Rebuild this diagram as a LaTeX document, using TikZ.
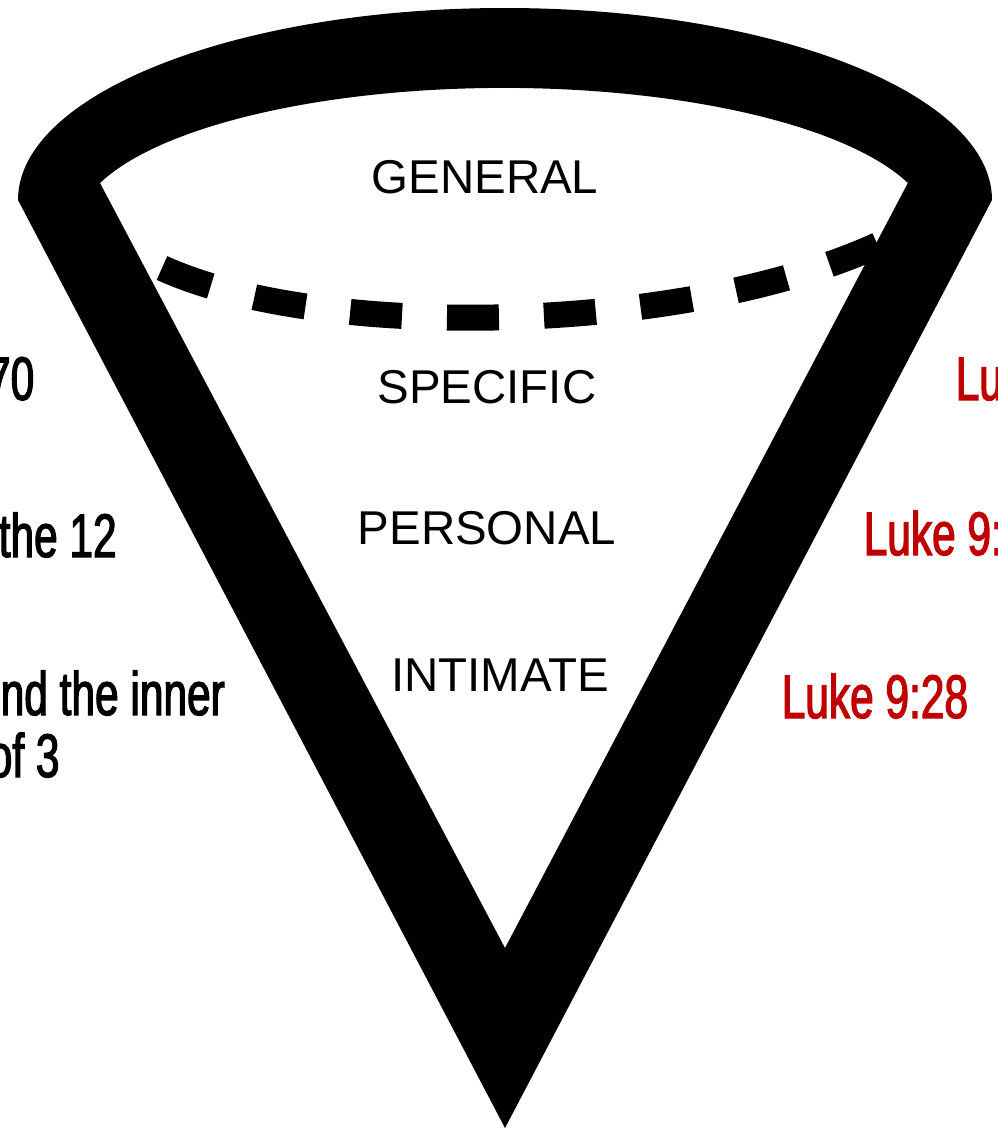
\documentclass[tikz,border=0pt]{standalone}
\usepackage{fontspec}
\setmainfont{Liberation Sans}
\newfontfamily\narrowfont[FakeStretch=0.69,FakeBold=2]{Liberation Sans}
\definecolor{refred}{HTML}{C00000}
\tikzset{
  tier/.style={font=\fontsize{13.5}{16}\selectfont, inner sep=0pt, anchor=base},
  side/.style={font=\narrowfont\fontsize{17.5}{21}\selectfont, inner sep=0pt},
  verse/.style={side, text=refred, anchor=base west},
  rim/.style={line width=2.6mm, dash pattern=on 5.2mm off 4.5mm}
}
\begin{document}
\begin{tikzpicture}[x=0.1mm, y=-0.1mm]
    \useasboundingbox (0,0) rectangle (998,1130);
    \clip (0,0) rectangle (998,1130);
    \draw[rim] (162,268) .. controls (320,340) and (680,335) .. (878,245);
    \fill[even odd rule] (18,200) arc[start angle=180, end angle=360, x radius=487, y radius=192]
        -- (505,1128) -- cycle
        (100,183) arc[start angle=199.3, end angle=340.7, x radius=428, y radius=142]
        -- (505,948) -- cycle;
    \node[tier] (general) at (485,193) {GENERAL};
    \node[tier] (specific) at (487,403) {SPECIFIC};
    \node[tier] (personal) at (487,544) {PERSONAL};
    \node[tier] (intimate) at (500,691) {INTIMATE};
    \node[side, anchor=base east] (seventy) at (35,400) {70};
    \node[side, anchor=base west] (twelve) at (-2,557) {the 12};
    \node[side, anchor=base west] (inner) at (0,715) {nd the inner};
    \node[side, anchor=base west] (three) at (-12,777) {of 3};
    \node[verse] (lukeA) at (955,400) {Lu};
    \node[verse] (lukeB) at (863,555) {Luke 9:};
    \node[verse] (lukeC) at (781,718) {Luke 9:28};
  \end{tikzpicture}
\end{document}
